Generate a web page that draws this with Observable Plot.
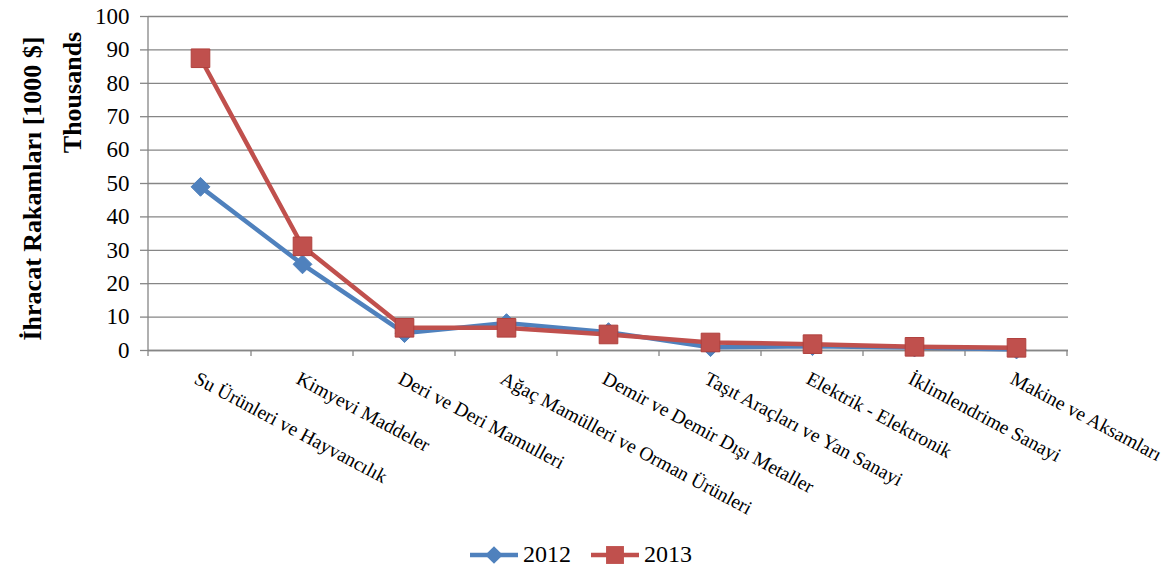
<!DOCTYPE html>
<html>
<head>
<meta charset="utf-8">
<script src="https://cdn.jsdelivr.net/npm/d3@7"></script>
<script src="https://cdn.jsdelivr.net/npm/@observablehq/plot@0.6"></script>
<style>
  html, body { margin: 0; padding: 0; background: #fff; }
  #chart { width: 1176px; }
  #legend { width: 1176px; height: 41px; display: flex; justify-content: center; align-items: center;
            font-family: "Liberation Serif", "Times New Roman", serif; font-size: 24px; color: #000; }
  #legend .item { display: flex; align-items: center; }
  #legend .item + .item { margin-left: 20px; }
  #legend svg { display: block; margin-right: 5px; }
</style>
</head>
<body>
<div id="chart"></div>
<div id="legend"></div>
<script>
const categories = [
  "Su Ürünleri ve Hayvancılık",
  "Kimyevi Maddeler",
  "Deri ve Deri Mamulleri",
  "Ağaç Mamülleri ve Orman Ürünleri",
  "Demir ve Demir Dışı Metaller",
  "Taşıt Araçları ve Yan Sanayi",
  "Elektrik - Elektronik",
  "İklimlendrime Sanayi",
  "Makine ve Aksamları"
];
const values2012 = [49, 25.8, 5.2, 8.2, 5.5, 1.0, 1.3, 0.9, 0.3];
const values2013 = [87.5, 31.2, 6.8, 6.8, 4.8, 2.4, 1.9, 1.1, 0.8];
const seriesNames = ["2012", "2013"];
const yTicks = [0, 10, 20, 30, 40, 50, 60, 70, 80, 90, 100];
const yTitle = "İhracat Rakamları [1000 $]";
const yUnit = "Thousands";

const blue = "#4F81BD";
const red = "#C0504D";
const gray = "#868686";

const rows2012 = categories.map((c, i) => ({cat: c, value: values2012[i]}));
const rows2013 = categories.map((c, i) => ({cat: c, value: values2013[i]}));

// custom axis frame: left axis line and category-boundary ticks
function axisFrame(index, scales, values, dims) {
  const x = scales.x;
  const step = x(categories[1]) - x(categories[0]);
  const y0 = dims.height - dims.marginBottom;
  const g = d3.create("svg:g").attr("stroke", gray).attr("stroke-width", 1.3).attr("fill", "none");
  g.append("line")
    .attr("x1", dims.marginLeft).attr("x2", dims.marginLeft)
    .attr("y1", dims.marginTop).attr("y2", y0 + 6);
  const bounds = categories.map(c => x(c) + step / 2);
  g.selectAll(".t").data(bounds).join("line")
    .attr("x1", d => d).attr("x2", d => d)
    .attr("y1", y0).attr("y2", y0 + 6);
  return g.node();
}

const chart = Plot.plot({
  width: 1176,
  height: 530,
  marginLeft: 148,
  marginRight: 108,
  marginTop: 16,
  marginBottom: 180,
  style: {fontFamily: "'Liberation Serif', 'Times New Roman', serif", background: "#fff", color: "#000"},
  x: {type: "point", domain: categories, padding: 0.5, axis: null},
  y: {domain: [0, 100], axis: null},
  marks: [
    Plot.gridY(yTicks, {stroke: gray, strokeOpacity: 1, strokeWidth: 1.3}),
    Plot.axisY(yTicks, {tickSize: 8, tickPadding: 11, fontSize: 23, stroke: gray, strokeOpacity: 1, strokeWidth: 1.3, label: null, fill: "#000"}),
    Plot.ruleY([0], {stroke: gray, strokeWidth: 1.3}),
    axisFrame,
    Plot.text(categories, {
      x: d => d, text: d => d, frameAnchor: "bottom",
      rotate: 28, textAnchor: "start", lineAnchor: "top",
      dy: 20, dx: -1, fontSize: 19.5, fill: "#000"
    }),
    Plot.text([yTitle], {
      frameAnchor: "left", text: d => d, rotate: -90, lineAnchor: "bottom", textAnchor: "middle",
      dx: -108, dy: 5, fontSize: 26, fontWeight: "bold", fill: "#000"
    }),
    Plot.text([yUnit], {
      frameAnchor: "top-left", text: d => d, rotate: -90, lineAnchor: "bottom", textAnchor: "middle",
      dx: -68, dy: 76, fontSize: 26, fontWeight: "bold", fill: "#000"
    }),
    Plot.line(rows2012, {x: "cat", y: "value", stroke: blue, strokeWidth: 4.5}),
    Plot.dot(rows2012, {x: "cat", y: "value", symbol: "diamond2", r: 8.5, fill: blue, stroke: blue, strokeWidth: 1}),
    Plot.line(rows2013, {x: "cat", y: "value", stroke: red, strokeWidth: 4.5}),
    Plot.dot(rows2013, {x: "cat", y: "value", symbol: "square", r: 10.5, fill: red, stroke: "#B0403D", strokeWidth: 1})
  ]
});
document.getElementById("chart").appendChild(chart);

// legend
const legend = d3.select("#legend").style("padding-top", "4px").style("box-sizing", "border-box").style("height", "45px");
const inner = legend.append("div").style("display", "flex").style("margin-left", "-14px");
[[seriesNames[0], blue, d3.symbolDiamond2, 200], [seriesNames[1], red, d3.symbolSquare, 320]].forEach(([name, color, sym, size]) => {
  const item = inner.append("div").attr("class", "item");
  const s = item.append("svg").attr("width", 48).attr("height", 24);
  s.append("line").attr("x1", 0).attr("x2", 48).attr("y1", 12).attr("y2", 12)
    .attr("stroke", color).attr("stroke-width", 4.5).attr("stroke-linecap", "round");
  s.append("path").attr("d", d3.symbol(sym, size)()).attr("transform", "translate(24,12)").attr("fill", color);
  item.append("span").text(name);
});
</script>
</body>
</html>
